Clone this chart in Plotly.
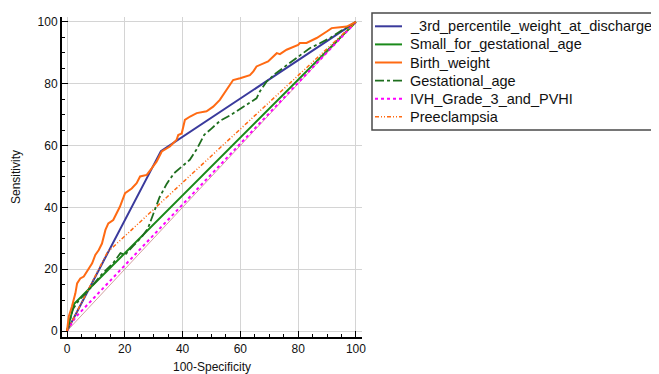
import plotly.graph_objects as go

# ---- data ----
third_pct_x = [0, 32.5, 100]
third_pct_y = [0, 58.2, 100]

sga_x = [0, 2.5, 100]
sga_y = [0, 8.8, 100]

bw_x = [0, 0.6, 1.7, 2.9, 3.5, 4.6, 5.8, 6.9, 8.7, 9.8, 11.0, 12.1, 12.7, 13.3, 14.3, 16.0,
        18.3, 20.1, 22.4, 24.1, 25.3, 27.6, 29.3, 31.0, 32.8, 35.6, 37.9, 38.5, 39.7, 40.8,
        42.6, 44.9, 48.3, 50.6, 52.9, 55.3, 57.5, 59.9, 63.3, 64.5, 65.6, 69.6, 71.4, 72.6,
        73.7, 76.0, 80.0, 80.6, 82.9, 86.4, 89.9, 91.6, 94.5, 96.8, 100]
bw_y = [0, 4.6, 7.9, 12.2, 15.4, 17.0, 17.6, 19.2, 21.9, 24.6, 26.2, 28.3, 30.5, 32.7, 34.8, 35.9,
        40.2, 44.6, 46.1, 47.8, 50.0, 50.5, 52.6, 54.8, 58.1, 59.7, 61.8, 63.4, 63.9, 68.3,
        69.4, 70.5, 71.1, 72.6, 74.8, 78.0, 81.2, 81.8, 82.8, 84.0, 85.6, 87.2, 88.8, 89.9,
        89.6, 91.0, 92.6, 93.2, 93.2, 94.8, 96.9, 98.0, 98.3, 98.5, 100]

ga_x = [0, 0.8, 2.0, 4.0, 8.0, 12.0, 16.0, 18.5, 20.0, 23.0, 26.0, 28.0, 30.0, 32.0, 34.5,
        37.0, 40.0, 42.5, 45.0, 47.5, 50.0, 53.0, 56.5, 61.0, 65.6, 66.8, 69.0, 72.0, 76.0,
        80.5, 84.0, 87.5, 91.0, 95.0, 100]
ga_y = [0, 3.0, 7.0, 9.8, 13.8, 18.3, 22.0, 25.2, 24.6, 27.6, 30.6, 33.2, 38.2, 43.2, 47.6,
        51.0, 53.4, 55.4, 59.0, 63.5, 65.5, 68.0, 69.8, 72.6, 75.3, 77.6, 80.6, 83.2, 86.0,
        89.2, 91.5, 93.1, 94.8, 97.2, 100]

ivh_x = [0, 3, 100]
ivh_y = [0, 4.5, 100]

pre_x = [0, 14, 100]
pre_y = [0, 25.5, 100]

diag_x = [0, 100]
diag_y = [0, 100]

tick_vals = [0, 20, 40, 60, 80, 100]

series_names = ["_3rd_percentile_weight_at_discharge", "Small_for_gestational_age",
                "Birth_weight", "Gestational_age", "IVH_Grade_3_and_PVHI", "Preeclampsia"]

# ---- styles ----
PRE_DASH = "4px,2px,1px,2px,1px,2px"
styles = {
    "_3rd_percentile_weight_at_discharge": dict(color="#3a3a9c", width=2, dash="solid"),
    "Small_for_gestational_age": dict(color="#1a8a1a", width=2, dash="solid"),
    "Birth_weight": dict(color="#ff6a13", width=2, dash="solid"),
    "Gestational_age": dict(color="#1e6e1e", width=1.8, dash="dashdot"),
    "IVH_Grade_3_and_PVHI": dict(color="#ff00ff", width=2, dash="dot"),
    "Preeclampsia": dict(color="#ff6a13", width=1.5, dash=PRE_DASH),
}

data = {
    "_3rd_percentile_weight_at_discharge": (third_pct_x, third_pct_y),
    "Small_for_gestational_age": (sga_x, sga_y),
    "Birth_weight": (bw_x, bw_y),
    "Gestational_age": (ga_x, ga_y),
    "IVH_Grade_3_and_PVHI": (ivh_x, ivh_y),
    "Preeclampsia": (pre_x, pre_y),
}

fig = go.Figure()
fig.add_trace(go.Scatter(x=diag_x, y=diag_y, mode="lines", showlegend=False,
                         line=dict(color="#d2a0a0", width=1), hoverinfo="skip"))
draw_order = ["_3rd_percentile_weight_at_discharge", "Small_for_gestational_age",
              "IVH_Grade_3_and_PVHI", "Preeclampsia", "Gestational_age", "Birth_weight"]
for nm in draw_order:
    xs, ys = data[nm]
    fig.add_trace(go.Scatter(x=xs, y=ys, mode="lines", name=nm, showlegend=False,
                             line=styles[nm]))

# ---- layout geometry (reference pixels; the page body adds an 8px offset) ----
OFF = 8
W, H = 659 - OFF, 374 - OFF
L, R_px, T, B_px = 62, 362, 17, 337          # plot area in reference pixels
PW, PH = R_px - L, B_px - T


def px_x(p):
    return (p - L) / PW


def px_y(p):
    return (B_px - p) / PH


# ---- legend box drawn in paper space ----
shapes = [dict(type="rect", xref="paper", yref="paper",
               x0=px_x(372), x1=px_x(665), y0=px_y(130), y1=px_y(13),
               line=dict(color="#4a4a4a", width=1.5), fillcolor="white", layer="above")]
annotations = []
row0, row_gap = 26.3, 18.1
for i, nm in enumerate(series_names):
    yy = row0 + i * row_gap
    st = styles[nm]
    shapes.append(dict(type="line", xref="paper", yref="paper",
                       x0=px_x(375), x1=px_x(402), y0=px_y(yy), y1=px_y(yy),
                       line=dict(color=st["color"], width=st["width"], dash=st["dash"]),
                       layer="above"))
    annotations.append(dict(xref="paper", yref="paper", x=px_x(408), y=px_y(yy),
                            xanchor="left", yanchor="middle", showarrow=False, text=nm,
                            font=dict(family="Liberation Sans, Arial", size=14.5,
                                      color="#111111")))

axis_common = dict(
    showline=True, linecolor="black", linewidth=2, mirror=False,
    showgrid=True, gridcolor="#d4d4d4", gridwidth=1,
    ticks="inside", ticklen=6, tickcolor="black", tickwidth=1,
    tickvals=tick_vals, zeroline=False, automargin=False,
    tickfont=dict(family="Liberation Sans, Arial", size=12, color="#111111"),
    minor=dict(ticks="inside", ticklen=3, dtick=5, tick0=0, tickcolor="black", showgrid=False),
)

fig.update_layout(
    width=W, height=H,
    margin=dict(l=L - OFF, r=659 - R_px, t=T - OFF, b=374 - B_px),
    paper_bgcolor="white", plot_bgcolor="white",
    font=dict(family="Liberation Sans, Arial", size=12, color="#111111"),
    xaxis=dict(range=[-1.73, 102.1], title=dict(text="100-Specificity", standoff=8,
               font=dict(size=12)), **axis_common),
    yaxis=dict(range=[-1.94, 101.6], title=dict(text="Sensitivity", standoff=14,
               font=dict(size=12)), **axis_common),
    showlegend=False,
    shapes=shapes,
    annotations=annotations,
)

fig.write_html("out.html")
